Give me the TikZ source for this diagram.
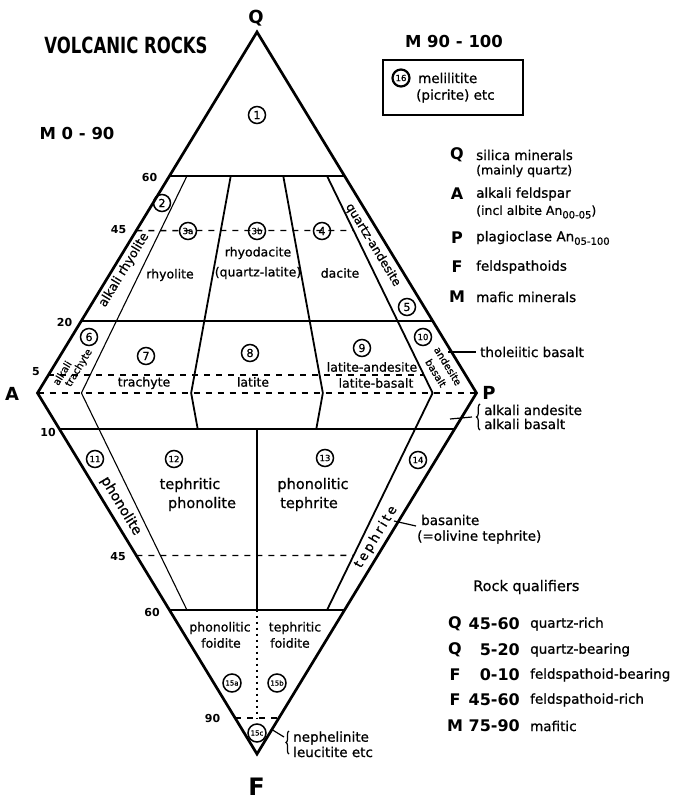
\documentclass[tikz,border=0pt]{standalone}
\usepackage{fontspec}
\usepackage{graphicx}
\setmainfont{DejaVu Sans}[UprightFeatures={FakeBold=0.8}]
\usetikzlibrary{decorations.pathreplacing}
\newcommand{\myfs}[1]{\fontsize{#1}{#1}\selectfont}
\tikzset{
  outline/.style={line width=2.7pt, line join=miter, miter limit=20},
  solidln/.style={line width=1.8pt},
  thinln/.style={line width=1.1pt},
  dashln/.style={line width=1.4pt, dash pattern=on 6pt off 6pt},
  dotln/.style={line width=1.6pt, dash pattern=on 2pt off 4pt},
  lead/.style={line width=1.2pt},
  circ/.style={circle, draw, line width=1.5pt, minimum size=17pt, inner sep=0pt, font=\myfs{11}},
  circs/.style={circ, font=\myfs{8.5}},
  circxs/.style={circ, minimum size=18pt, font=\myfs{7}},
  upl/.style={inner sep=0pt, font=\myfs{12.5}},
  lowl/.style={inner sep=0pt, font=\myfs{14.5}},
  txt/.style={inner sep=0pt, font=\myfs{13.5}, anchor=west},
  tick/.style={inner sep=0pt, font=\myfs{11}\bfseries},
  vtx/.style={inner sep=0pt, font=\myfs{18}\bfseries},
  key/.style={inner sep=0pt, font=\myfs{16}\bfseries},
  hdr/.style={inner sep=0pt, font=\myfs{16.5}\bfseries},
  strip/.style={inner sep=0pt, font=\myfs{12}},
}
\begin{document}
\begin{tikzpicture}[x=1pt,y=-1pt]
\useasboundingbox (0,0) rectangle (678,802);
% corners
\coordinate (Q) at (257,32);
\coordinate (A) at (37.5,393);
\coordinate (P) at (476.5,393);
\coordinate (F) at (257,754);
% upper triangle points
\coordinate (q60a) at (barycentric cs:Q=.6,A=.4);
\coordinate (q60p) at (barycentric cs:Q=.6,P=.4);
\coordinate (q20a) at (barycentric cs:Q=.2,A=.8);
\coordinate (q20p) at (barycentric cs:Q=.2,P=.8);
\coordinate (q45a) at (barycentric cs:Q=.45,A=.55);
\coordinate (q45r) at (barycentric cs:Q=.45,A=.055,P=.495);
\coordinate (q5a) at (barycentric cs:Q=.05,A=.95);
\coordinate (q5r) at (barycentric cs:Q=.05,A=.095,P=.855);
\coordinate (t10) at (barycentric cs:Q=.6,A=.36,P=.04);
\coordinate (t35) at (barycentric cs:Q=.6,A=.26,P=.14);
\coordinate (t65) at (barycentric cs:Q=.6,A=.14,P=.26);
\coordinate (t90) at (barycentric cs:Q=.6,A=.04,P=.36);
\coordinate (m10) at (barycentric cs:A=.9,P=.1);
\coordinate (m35) at (barycentric cs:A=.65,P=.35);
\coordinate (m65) at (barycentric cs:A=.35,P=.65);
\coordinate (m90) at (barycentric cs:A=.1,P=.9);
% lower triangle points
\coordinate (f10a) at (barycentric cs:F=.1,A=.9);
\coordinate (f10p) at (barycentric cs:F=.1,P=.9);
\coordinate (b35) at (barycentric cs:F=.1,A=.585,P=.315);
\coordinate (b65) at (barycentric cs:F=.1,A=.315,P=.585);
\coordinate (b50) at (barycentric cs:F=.1,A=.45,P=.45);
\coordinate (f45a) at (barycentric cs:F=.45,A=.55);
\coordinate (f45r) at (barycentric cs:F=.45,A=.055,P=.495);
\coordinate (f60a) at (barycentric cs:F=.6,A=.4);
\coordinate (f60p) at (barycentric cs:F=.6,P=.4);
\coordinate (l10) at (barycentric cs:F=.6,A=.36,P=.04);
\coordinate (l90) at (barycentric cs:F=.6,A=.04,P=.36);
\coordinate (l50) at (barycentric cs:F=.6,A=.2,P=.2);
\coordinate (f90a) at (barycentric cs:F=.9,A=.1);
\coordinate (f90p) at (barycentric cs:F=.9,P=.1);
\coordinate (l50b) at (barycentric cs:F=.9,A=.05,P=.05);

% dashed and dotted lines
\draw[dashln] (q45a) -- (q45r);
\draw[dashln] (q5a) -- (q5r);
\draw[dashln] (A) -- (P);
\draw[dashln] (f45a) -- (f45r);
\draw[dashln] (f90a) -- (f90p);
\draw[dotln] (l50) -- (l50b);
% solid field boundaries
\draw[solidln] (q60a) -- (q60p);
\draw[solidln] (q20a) -- (q20p);
\draw[solidln] (f10a) -- (f10p);
\draw[solidln] (f60a) -- (f60p);
\draw[solidln] (t35) -- (m35) -- (b35);
\draw[solidln] (t65) -- (m65) -- (b65);
\draw[solidln] (t90) -- (m90) -- (l90);
\draw[solidln] (b50) -- (l50);
\draw[thinln] (t10) -- (m10) -- (l10);
% outline
\draw[outline] (Q) -- (A) -- (F) -- (P) -- cycle;

% headings
\node[hdr] (title) at (126,45) {\scalebox{1}[1.35]{VOLCANIC ROCKS}};
\node[hdr] (m090) at (77,133.5) {M 0 - 90};
\node[hdr] (m90100) at (454,41) {M 90 - 100};
\node[vtx] (lQ) at (256,18) {Q};
\node[vtx] (lA) at (12,393.5) {A};
\node[vtx] (lP) at (489,392.5) {P};
\node[vtx, font=\myfs{24}\bfseries] (lF) at (256.5,787) {F};

% melilitite box
\node[draw, line width=1.4pt, minimum width=140pt, minimum height=55pt, inner sep=0pt] (box) at (453,87.5) {};
\node[circs, line width=2.2pt] (c16) at (401,78) {16};
\node[txt] (mel) at (418,78) {melilitite};
\node[txt] (pic) at (416,96) {(picrite) etc};

% legend
\node[key] (kQ) at (457,155) {Q};
\node[txt] (kQ1) at (476,155) {silica minerals};
\node[txt, font=\myfs{12.5}] (kQ2) at (476,171) {(mainly quartz)};
\node[key] (kA) at (457,194) {A};
\node[txt] (kA1) at (476,194) {alkali feldspar};
\node[txt, font=\myfs{12.5}] (kA2) at (476,212) {(incl albite An\raisebox{-3.5pt}{\myfs{10}00-05})};
\node[key] (kP) at (457,238) {P};
\node[txt] (kP1) at (476,238) {plagioclase An\raisebox{-3.5pt}{\myfs{10}05-100}};
\node[key] (kF) at (457,267) {F};
\node[txt] (kF1) at (476,267) {feldspathoids};
\node[key] (kM) at (457,297) {M};
\node[txt] (kM1) at (476,297) {mafic minerals};

% tick labels
\node[tick] (n60u) at (149.5,177) {60};
\node[tick] (n45u) at (118.5,230) {45};
\node[tick] (n20u) at (64.5,322.5) {20};
\node[tick] (n5u) at (36,372) {5};
\node[tick] (n10l) at (48,432) {10};
\node[tick] (n45l) at (118,557) {45};
\node[tick] (n60l) at (152,612) {60};
\node[tick] (n90l) at (212.5,718) {90};

% circled field numbers
\node[circ] (c1) at (257,115) {1};
\node[circ] (c2) at (162,203) {2};
\node[circs] (c3a) at (188,231) {3a};
\node[circs] (c3b) at (257,231) {3b};
\node[circ] (c4) at (322,231) {4};
\node[circ] (c5) at (407,307) {5};
\node[circ] (c6) at (89,337) {6};
\node[circ] (c7) at (146,356) {7};
\node[circ] (c8) at (250,353) {8};
\node[circ] (c9) at (362,348) {9};
\node[circs] (c10) at (423,337) {10};
\node[circs] (c11) at (95,459) {11};
\node[circs] (c12) at (174,459) {12};
\node[circs] (c13) at (325,458) {13};
\node[circs] (c14) at (418,460) {14};
\node[circxs] (c15a) at (232,683) {15a};
\node[circxs] (c15b) at (277,683) {15b};
\node[circxs] (c15c) at (257,733) {15c};

% field names, upper
\node[upl] (rhy) at (170,275) {rhyolite};
\node[upl] (rhd) at (258,253) {rhyodacite};
\node[upl] (qla) at (258,273) {(quartz-latite)};
\node[upl] (dac) at (340,273) {dacite};
\node[upl] (tra) at (144,383) {trachyte};
\node[upl] (lat) at (253,382) {latite};
\node[upl] (laa) at (372,367) {latite-andesite};
\node[upl] (lab) at (376,383) {latite-basalt};
% strip names
\node[strip, font=\myfs{12.5}, rotate=58.7] (arh) at (124,270) {alkali rhyolite};
\node[strip, font=\myfs{10}, rotate=58.7] (atr1) at (62,373) {alkali};
\node[strip, font=\myfs{10}, rotate=58.7] (atr2) at (79,368) {trachyte};
\node[strip, rotate=-58.7] (qan) at (373,245) {quartz-andesite};
\node[strip, font=\myfs{10}, rotate=-58.7] (anb1) at (448,366) {andesite};
\node[strip, font=\myfs{10}, rotate=-58.7] (anb2) at (436,373) {basalt};
\node[strip, font=\myfs{14}, rotate=-58.7] (pho) at (121,506) {phonolite};
\node[strip, font=\myfs{13}\addfontfeature{LetterSpace=20}, rotate=58.7] (tep) at (376,537) {tephrite};
% field names, lower
\node[lowl] (tp1) at (190,485) {tephritic};
\node[lowl] (tp2) at (202,504) {phonolite};
\node[lowl] (pt1) at (313,485) {phonolitic};
\node[lowl] (pt2) at (309,504) {tephrite};
\node[upl] (pf1) at (220,628) {phonolitic};
\node[upl] (pf2) at (221,643) {foidite};
\node[upl] (tf1) at (295,628) {tephritic};
\node[upl] (tf2) at (290,643) {foidite};

% side annotations
\node[txt] (tho) at (480,352) {tholeiitic basalt};
\coordinate (tho0) at (448,352);
\coordinate (tho1) at (476,352);
\draw[lead] (tho0) -- (tho1);

\coordinate (br1a) at (480,430);
\coordinate (br1b) at (480,404);
\draw[lead, decorate, decoration={brace, amplitude=3.5pt}] (br1a) -- (br1b);
\node[txt] (aan) at (484,410) {alkali andesite};
\node[txt] (aba) at (484,424) {alkali basalt};
\coordinate (aa0) at (450,419);
\coordinate (aa1) at (472,417);
\draw[lead] (aa0) -- (aa1);

\node[txt] (bas) at (421,520) {basanite};
\node[txt] (olt) at (417,537) {(=olivine tephrite)};
\coordinate (bs0) at (394,521);
\coordinate (bs1) at (416,526);
\draw[lead] (bs0) -- (bs1);

\coordinate (br2a) at (289,754);
\coordinate (br2b) at (289,731);
\draw[lead, decorate, decoration={brace, amplitude=3pt}] (br2a) -- (br2b);
\node[txt] (nep) at (293,738) {nephelinite};
\node[txt] (leu) at (293,752) {leucitite etc};
\coordinate (ne0) at (271,729);
\coordinate (ne1) at (284,737);
\draw[lead] (ne0) -- (ne1);

% rock qualifiers
\node[txt, font=\myfs{14.5}] (rq) at (473,587) {Rock qualifiers};
\node[key] (r1k) at (455,624) {Q};
\node[key, anchor=east] (r1n) at (520,624) {45-60};
\node[txt] (r1t) at (530,624) {quartz-rich};
\node[key] (r2k) at (455,650) {Q};
\node[key, anchor=east] (r2n) at (520,650) {5-20};
\node[txt] (r2t) at (530,650) {quartz-bearing};
\node[key] (r3k) at (455,675) {F};
\node[key, anchor=east] (r3n) at (520,675) {0-10};
\node[txt] (r3t) at (530,675) {feldspathoid-bearing};
\node[key] (r4k) at (455,700) {F};
\node[key, anchor=east] (r4n) at (520,700) {45-60};
\node[txt] (r4t) at (530,700) {feldspathoid-rich};
\node[key] (r5k) at (455,726) {M};
\node[key, anchor=east] (r5n) at (520,726) {75-90};
\node[txt] (r5t) at (530,726) {mafitic};
\end{tikzpicture}
\end{document}
